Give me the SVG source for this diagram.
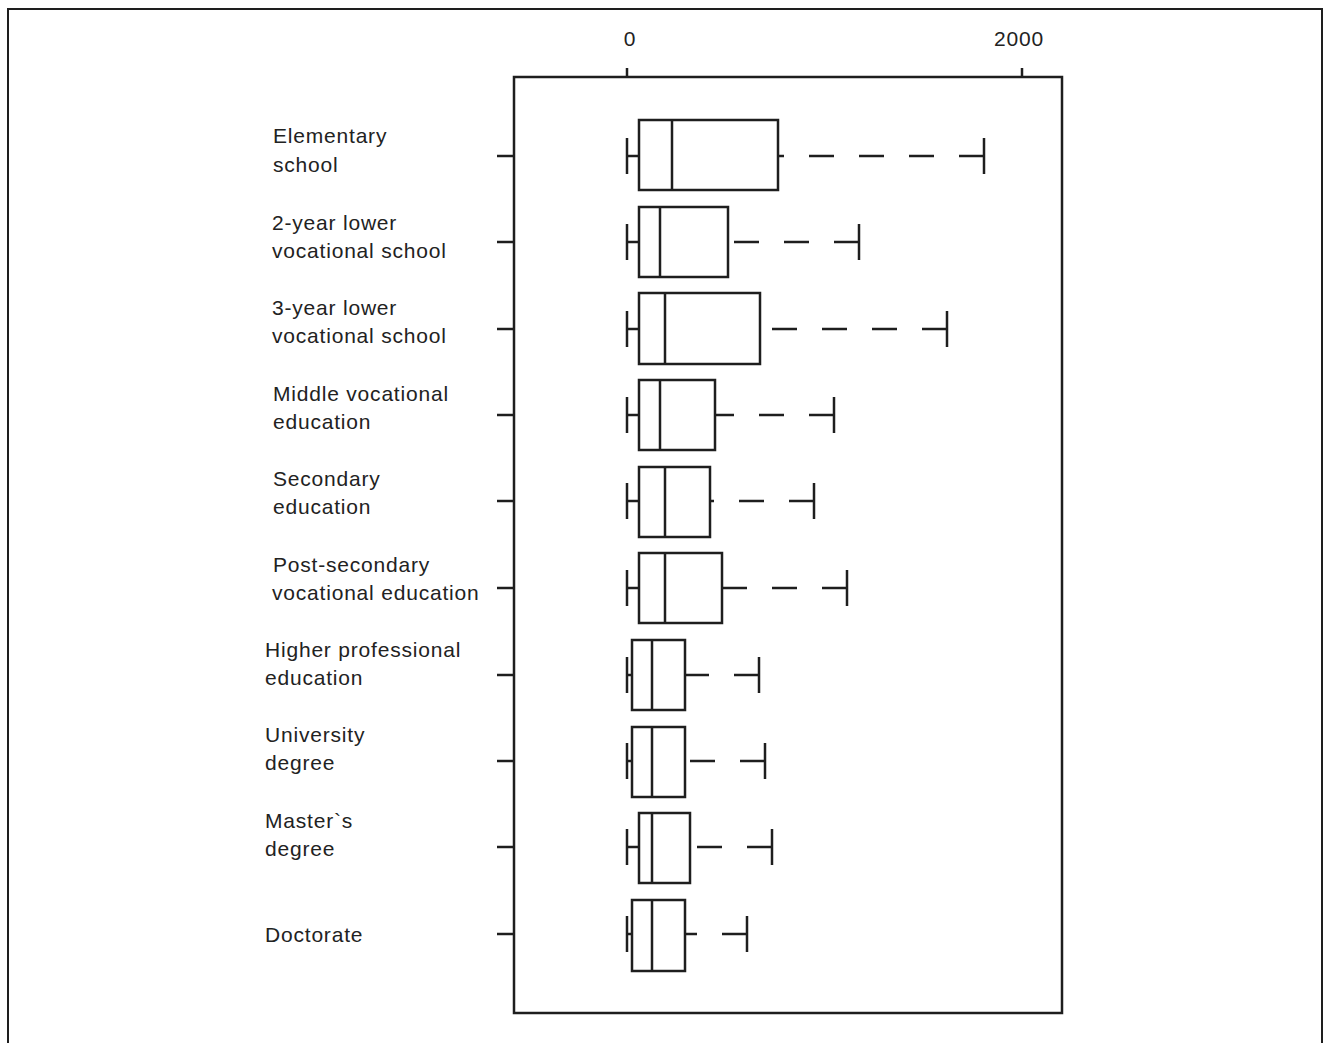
<svg xmlns="http://www.w3.org/2000/svg" width="1323" height="1043" viewBox="0 0 1323 1043">
<style>
.ln{stroke:#1e1e1e;stroke-width:2.5;fill:none;stroke-linecap:butt}
.bx{stroke:#1e1e1e;stroke-width:2.5;fill:#fff}
.ds{stroke:#1e1e1e;stroke-width:2.5;fill:none;stroke-dasharray:25 25}
.t{font-family:"Liberation Sans",Arial,sans-serif;font-size:21px;letter-spacing:0.8px;fill:#222}
</style>
<rect width="1323" height="1043" fill="#fff"/>
<g id="page-frame">
<path d="M8 1043 V9 H1322 V1043" fill="none" stroke="#1e1e1e" stroke-width="2"/>
</g>
<g id="axes">
<rect x="514" y="77" width="548" height="936" class="ln"/>
<line x1="627" y1="68" x2="627" y2="77" class="ln"/>
<line x1="1022" y1="68" x2="1022" y2="77" class="ln"/>
<text x="630" y="46" class="t" text-anchor="middle">0</text>
<text x="1019" y="46" class="t" text-anchor="middle">2000</text>
<g id="yticks">
<line x1="497" y1="156" x2="514" y2="156" class="ln"/>
<line x1="497" y1="242" x2="514" y2="242" class="ln"/>
<line x1="497" y1="329" x2="514" y2="329" class="ln"/>
<line x1="497" y1="415" x2="514" y2="415" class="ln"/>
<line x1="497" y1="501" x2="514" y2="501" class="ln"/>
<line x1="497" y1="588" x2="514" y2="588" class="ln"/>
<line x1="497" y1="675" x2="514" y2="675" class="ln"/>
<line x1="497" y1="761" x2="514" y2="761" class="ln"/>
<line x1="497" y1="847" x2="514" y2="847" class="ln"/>
<line x1="497" y1="934" x2="514" y2="934" class="ln"/>
</g>
</g>
<g id="labels">
<text class="t" x="273" y="143">Elementary</text>
<text class="t" x="273" y="172">school</text>
<text class="t" x="272" y="230">2-year lower</text>
<text class="t" x="272" y="258">vocational school</text>
<text class="t" x="272" y="315">3-year lower</text>
<text class="t" x="272" y="343">vocational school</text>
<text class="t" x="273" y="401">Middle vocational</text>
<text class="t" x="273" y="429">education</text>
<text class="t" x="273" y="486">Secondary</text>
<text class="t" x="273" y="514">education</text>
<text class="t" x="273" y="572">Post-secondary</text>
<text class="t" x="272" y="600">vocational education</text>
<text class="t" x="265" y="657">Higher professional</text>
<text class="t" x="265" y="685">education</text>
<text class="t" x="265" y="742">University</text>
<text class="t" x="265" y="770">degree</text>
<text class="t" x="265" y="828">Master`s</text>
<text class="t" x="265" y="856">degree</text>
<text class="t" x="265" y="942">Doctorate</text>
</g>
<g id="row1">
<line x1="627" y1="138" x2="627" y2="174" class="ln"/><line x1="627" y1="156" x2="639" y2="156" class="ln"/>
<line x1="984" y1="156" x2="778" y2="156" class="ds"/><line x1="984" y1="138" x2="984" y2="174" class="ln"/>
<rect x="639" y="120" width="139" height="70" class="bx"/><line x1="672" y1="120" x2="672" y2="190" class="ln"/>
</g>
<g id="row2">
<line x1="627" y1="224" x2="627" y2="260" class="ln"/><line x1="627" y1="242" x2="639" y2="242" class="ln"/>
<line x1="859" y1="242" x2="728" y2="242" class="ds"/><line x1="859" y1="224" x2="859" y2="260" class="ln"/>
<rect x="639" y="207" width="89" height="70" class="bx"/><line x1="660" y1="207" x2="660" y2="277" class="ln"/>
</g>
<g id="row3">
<line x1="627" y1="311" x2="627" y2="347" class="ln"/><line x1="627" y1="329" x2="639" y2="329" class="ln"/>
<line x1="947" y1="329" x2="760" y2="329" class="ds"/><line x1="947" y1="311" x2="947" y2="347" class="ln"/>
<rect x="639" y="293" width="121" height="71" class="bx"/><line x1="665" y1="293" x2="665" y2="364" class="ln"/>
</g>
<g id="row4">
<line x1="627" y1="397" x2="627" y2="433" class="ln"/><line x1="627" y1="415" x2="639" y2="415" class="ln"/>
<line x1="834" y1="415" x2="715" y2="415" class="ds"/><line x1="834" y1="397" x2="834" y2="433" class="ln"/>
<rect x="639" y="380" width="76" height="70" class="bx"/><line x1="660" y1="380" x2="660" y2="450" class="ln"/>
</g>
<g id="row5">
<line x1="627" y1="483" x2="627" y2="519" class="ln"/><line x1="627" y1="501" x2="639" y2="501" class="ln"/>
<line x1="814" y1="501" x2="710" y2="501" class="ds"/><line x1="814" y1="483" x2="814" y2="519" class="ln"/>
<rect x="639" y="467" width="71" height="70" class="bx"/><line x1="665" y1="467" x2="665" y2="537" class="ln"/>
</g>
<g id="row6">
<line x1="627" y1="570" x2="627" y2="606" class="ln"/><line x1="627" y1="588" x2="639" y2="588" class="ln"/>
<line x1="847" y1="588" x2="722" y2="588" class="ds"/><line x1="847" y1="570" x2="847" y2="606" class="ln"/>
<rect x="639" y="553" width="83" height="70" class="bx"/><line x1="665" y1="553" x2="665" y2="623" class="ln"/>
</g>
<g id="row7">
<line x1="627" y1="657" x2="627" y2="693" class="ln"/><line x1="627" y1="675" x2="632" y2="675" class="ln"/>
<line x1="759" y1="675" x2="685" y2="675" class="ds"/><line x1="759" y1="657" x2="759" y2="693" class="ln"/>
<rect x="632" y="640" width="53" height="70" class="bx"/><line x1="652" y1="640" x2="652" y2="710" class="ln"/>
</g>
<g id="row8">
<line x1="627" y1="743" x2="627" y2="779" class="ln"/><line x1="627" y1="761" x2="632" y2="761" class="ln"/>
<line x1="765" y1="761" x2="685" y2="761" class="ds"/><line x1="765" y1="743" x2="765" y2="779" class="ln"/>
<rect x="632" y="727" width="53" height="70" class="bx"/><line x1="652" y1="727" x2="652" y2="797" class="ln"/>
</g>
<g id="row9">
<line x1="627" y1="829" x2="627" y2="865" class="ln"/><line x1="627" y1="847" x2="639" y2="847" class="ln"/>
<line x1="772" y1="847" x2="690" y2="847" class="ds"/><line x1="772" y1="829" x2="772" y2="865" class="ln"/>
<rect x="639" y="813" width="51" height="70" class="bx"/><line x1="652" y1="813" x2="652" y2="883" class="ln"/>
</g>
<g id="row10">
<line x1="627" y1="916" x2="627" y2="952" class="ln"/><line x1="627" y1="934" x2="632" y2="934" class="ln"/>
<line x1="747" y1="934" x2="685" y2="934" class="ds"/><line x1="747" y1="916" x2="747" y2="952" class="ln"/>
<rect x="632" y="900" width="53" height="71" class="bx"/><line x1="652" y1="900" x2="652" y2="971" class="ln"/>
</g>
</svg>
